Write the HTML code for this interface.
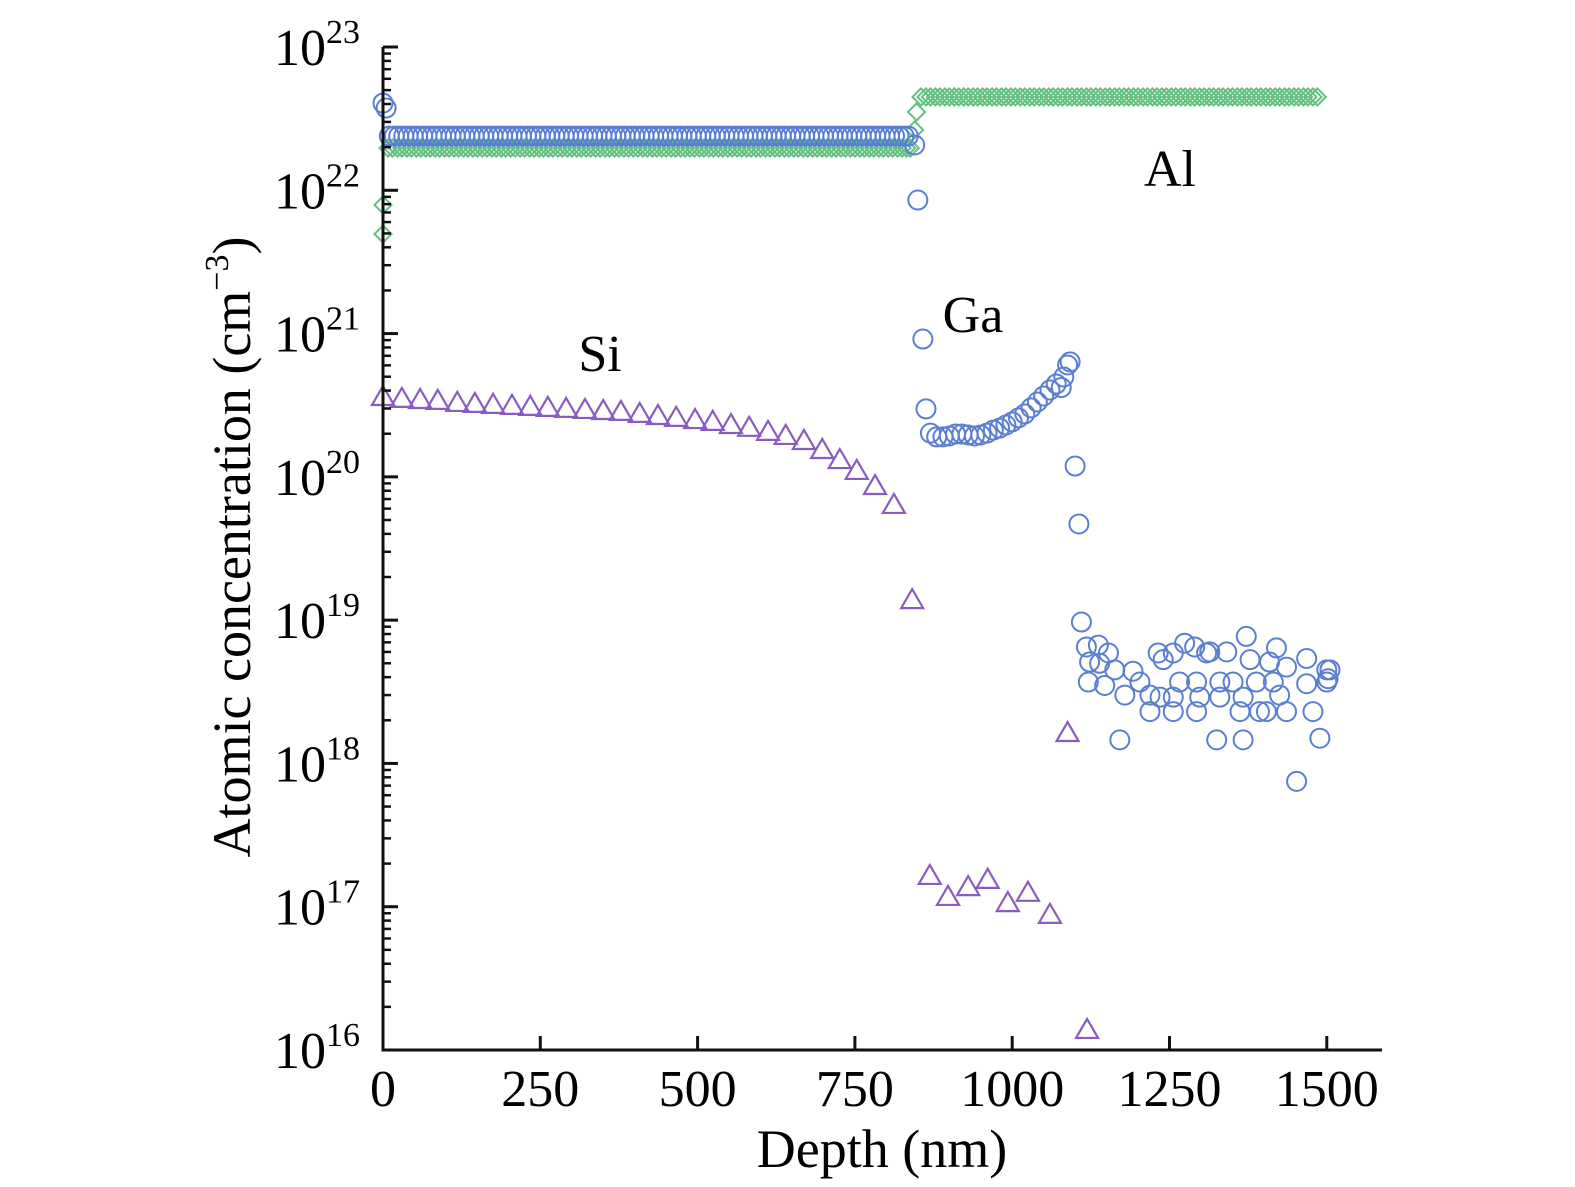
<!DOCTYPE html>
<html><head><meta charset="utf-8"><style>
html,body{margin:0;padding:0;background:#fff;}
svg{display:block;font-family:"Liberation Serif",serif;}
</style></head><body>
<svg id="chart" width="1575" height="1187" viewBox="0 0 1575 1187" xmlns="http://www.w3.org/2000/svg">
<g id="marks"></g>
<g id="axes"></g>
<text transform="translate(250,547) rotate(-90)" text-anchor="middle" font-size="54">Atomic concentration (cm<tspan dy="-22" font-size="34">−3</tspan><tspan dy="22">)</tspan></text>
<text x="882" y="1167" text-anchor="middle" font-size="54">Depth (nm)</text>
<text x="1170" y="186" text-anchor="middle" font-size="52">Al</text>
<text x="973" y="332" text-anchor="middle" font-size="52">Ga</text>
<text x="600" y="371" text-anchor="middle" font-size="52">Si</text>
</svg>
<script>
const xTicks = [0, 250, 500, 750, 1000, 1250, 1500];
const yDecades = [16, 17, 18, 19, 20, 21, 22, 23];

const siDepth = [0,30,59,87,118,146,175,205,234,262,291,321,350,378,408,437,466,496,524,553,582,612,640,669,698,726,753,782,812,841,869,898,930,961,993,1025,1060,1088,1119];
const siConc = [3.61e20,3.50e20,3.44e20,3.39e20,3.28e20,3.23e20,3.18e20,3.13e20,3.08e20,3.03e20,2.98e20,2.93e20,2.88e20,2.84e20,2.75e20,2.66e20,2.58e20,2.49e20,2.42e20,2.30e20,2.20e20,2.06e20,1.93e20,1.78e20,1.54e20,1.31e20,1.10e20,8.63e19,6.37e19,1.38e19,1.64e17,1.17e17,1.37e17,1.54e17,1.06e17,1.25e17,8.77e16,1.63e18,1.38e16];

const alDepth = [0,0,8,15,23,30,38,45,53,60,68,75,83,90,98,105,113,120,128,135,143,150,158,165,173,180,188,195,203,210,218,225,233,240,248,255,263,270,278,285,293,300,308,315,323,330,338,345,353,360,368,375,383,390,398,405,413,420,428,435,443,450,458,465,473,480,488,495,503,510,518,525,533,540,548,555,563,570,578,585,593,600,608,615,623,630,638,645,653,660,668,675,683,690,698,705,713,720,728,735,743,750,758,765,773,780,788,795,803,810,818,825,832,838,845,848,855,863,870,878,885,893,900,908,915,923,930,938,945,953,960,968,975,983,990,998,1005,1013,1020,1028,1035,1043,1050,1058,1065,1073,1080,1088,1095,1103,1110,1118,1125,1133,1140,1148,1155,1163,1170,1178,1185,1193,1200,1208,1215,1223,1230,1238,1245,1253,1260,1268,1275,1283,1290,1298,1305,1313,1320,1328,1335,1343,1350,1358,1365,1373,1380,1388,1395,1403,1410,1418,1425,1433,1440,1448,1455,1463,1470,1478,1485,1492,1497];
const alConc = [4.95e21,7.9e21,1.97e22,1.97e22,1.97e22,1.97e22,1.97e22,1.97e22,1.97e22,1.97e22,1.97e22,1.97e22,1.97e22,1.97e22,1.97e22,1.97e22,1.97e22,1.97e22,1.97e22,1.97e22,1.97e22,1.97e22,1.97e22,1.97e22,1.97e22,1.97e22,1.97e22,1.97e22,1.97e22,1.97e22,1.97e22,1.97e22,1.97e22,1.97e22,1.97e22,1.97e22,1.97e22,1.97e22,1.97e22,1.97e22,1.97e22,1.97e22,1.97e22,1.97e22,1.97e22,1.97e22,1.97e22,1.97e22,1.97e22,1.97e22,1.97e22,1.97e22,1.97e22,1.97e22,1.97e22,1.97e22,1.97e22,1.97e22,1.97e22,1.97e22,1.97e22,1.97e22,1.97e22,1.97e22,1.97e22,1.97e22,1.97e22,1.97e22,1.97e22,1.97e22,1.97e22,1.97e22,1.97e22,1.97e22,1.97e22,1.97e22,1.97e22,1.97e22,1.97e22,1.97e22,1.97e22,1.97e22,1.97e22,1.97e22,1.97e22,1.97e22,1.97e22,1.97e22,1.97e22,1.97e22,1.97e22,1.97e22,1.97e22,1.97e22,1.97e22,1.97e22,1.97e22,1.97e22,1.97e22,1.97e22,1.97e22,1.97e22,1.97e22,1.97e22,1.97e22,1.97e22,1.97e22,1.97e22,1.97e22,1.97e22,1.97e22,1.97e22,1.97e22,1.97e22,2.64e22,3.52e22,4.48e22,4.48e22,4.48e22,4.48e22,4.48e22,4.48e22,4.48e22,4.48e22,4.48e22,4.48e22,4.48e22,4.48e22,4.48e22,4.48e22,4.48e22,4.48e22,4.48e22,4.48e22,4.48e22,4.48e22,4.48e22,4.48e22,4.48e22,4.48e22,4.48e22,4.48e22,4.48e22,4.48e22,4.48e22,4.48e22,4.48e22,4.48e22,4.48e22,4.48e22,4.48e22,4.48e22,4.48e22,4.48e22,4.48e22,4.48e22,4.48e22,4.48e22,4.48e22,4.48e22,4.48e22,4.48e22,4.48e22,4.48e22,4.48e22,4.48e22,4.48e22,4.48e22,4.48e22,4.48e22,4.48e22,4.48e22,4.48e22,4.48e22,4.48e22,4.48e22,4.48e22,4.48e22,4.48e22,4.48e22,4.48e22,4.48e22,4.48e22,4.48e22,4.48e22,4.48e22,4.48e22,4.48e22,4.48e22,4.48e22,4.48e22,4.48e22,4.48e22,4.48e22,4.48e22,4.48e22,4.48e22,4.48e22,4.48e22,4.48e22,4.48e22];

const gaDepth = [0,5,10,18,25,33,40,48,55,63,70,78,85,93,100,108,115,123,130,138,145,153,160,168,175,183,190,198,205,213,220,228,235,243,250,258,265,273,280,288,295,303,310,318,325,333,340,348,355,363,370,378,385,393,400,408,415,423,430,438,445,453,460,468,475,483,490,498,505,513,520,528,535,543,550,558,565,573,580,588,595,603,610,618,625,633,640,648,655,663,670,678,685,693,700,708,715,723,730,738,745,753,760,768,775,783,790,798,805,813,820,828,835,845,850,858,863,870,880,890,900,910,920,930,940,950,960,970,980,990,1000,1010,1020,1030,1040,1050,1060,1070,1078,1082,1088,1092,1100,1106,1110,1118,1137,1153,1123,1139,1121,1147,1163,1179,1192,1203,1219,1232,1240,1256,1274,1290,1309,1314,1341,1372,1378,1409,1420,1436,1468,1500,1266,1293,1330,1351,1388,1415,1468,1500,1235,1256,1298,1330,1367,1425,1219,1256,1293,1362,1393,1404,1436,1478,1171,1325,1367,1489,1452,1505,1502];
const gaConc = [4.06e22,3.75e22,2.39e22,2.39e22,2.39e22,2.39e22,2.39e22,2.39e22,2.39e22,2.39e22,2.39e22,2.39e22,2.39e22,2.39e22,2.39e22,2.39e22,2.39e22,2.39e22,2.39e22,2.39e22,2.39e22,2.39e22,2.39e22,2.39e22,2.39e22,2.39e22,2.39e22,2.39e22,2.39e22,2.39e22,2.39e22,2.39e22,2.39e22,2.39e22,2.39e22,2.39e22,2.39e22,2.39e22,2.39e22,2.39e22,2.39e22,2.39e22,2.39e22,2.39e22,2.39e22,2.39e22,2.39e22,2.39e22,2.39e22,2.39e22,2.39e22,2.39e22,2.39e22,2.39e22,2.39e22,2.39e22,2.39e22,2.39e22,2.39e22,2.39e22,2.39e22,2.39e22,2.39e22,2.39e22,2.39e22,2.39e22,2.39e22,2.39e22,2.39e22,2.39e22,2.39e22,2.39e22,2.39e22,2.39e22,2.39e22,2.39e22,2.39e22,2.39e22,2.39e22,2.39e22,2.39e22,2.39e22,2.39e22,2.39e22,2.39e22,2.39e22,2.39e22,2.39e22,2.39e22,2.39e22,2.39e22,2.39e22,2.39e22,2.39e22,2.39e22,2.39e22,2.39e22,2.39e22,2.39e22,2.39e22,2.39e22,2.39e22,2.39e22,2.39e22,2.39e22,2.39e22,2.39e22,2.39e22,2.39e22,2.39e22,2.39e22,2.39e22,2.39e22,2.07e22,8.55e21,9.16e20,2.98e20,2.02e20,1.90e20,1.90e20,1.93e20,1.99e20,1.99e20,1.96e20,1.93e20,1.96e20,2.02e20,2.12e20,2.19e20,2.30e20,2.42e20,2.58e20,2.75e20,3.03e20,3.33e20,3.67e20,4.04e20,4.45e20,4.2e20,4.98e20,6.04e20,6.34e20,1.19e20,4.69e19,9.7e18,6.5e18,6.7e18,5.9e18,5.1e18,5.0e18,3.7e18,3.5e18,4.5e18,3.0e18,4.4e18,3.7e18,3.0e18,5.9e18,5.3e18,5.9e18,6.9e18,6.5e18,5.9e18,6.0e18,6.0e18,7.7e18,5.3e18,5.1e18,6.4e18,4.7e18,5.4e18,4.5e18,3.7e18,3.7e18,3.7e18,3.7e18,3.7e18,3.7e18,3.6e18,3.7e18,2.9e18,2.9e18,2.9e18,2.9e18,2.9e18,3.0e18,2.3e18,2.3e18,2.3e18,2.3e18,2.3e18,2.3e18,2.3e18,2.3e18,1.46e18,1.46e18,1.46e18,1.5e18,7.5e17,4.5e18,3.9e18];

const NS = "http://www.w3.org/2000/svg";
const X0 = 383, X1 = 1382, PX_PER_NM = 157.3 / 250;
const YTOP = 47, YBOT = 1050;
function xScale(d){ return X0 + d * PX_PER_NM; }
function yScale(v){ const l = Math.log10(v); return YBOT - (l - 16) * (YBOT - YTOP) / 7; }
function mk(tag, attrs, parent){ const e = document.createElementNS(NS, tag); for (const k in attrs) e.setAttribute(k, attrs[k]); parent.appendChild(e); return e; }

const marks = document.getElementById('marks');
const axes = document.getElementById('axes');

const gAl = mk('g', {fill:'none', stroke:'#63c07e', 'stroke-width':'2'}, marks);


alDepth.forEach((d, i) => {
  const x = xScale(d), y = yScale(alConc[i]), r = 8.5;
  const p = mk('polygon', {points: `${x},${y-r} ${x+r},${y} ${x},${y+r} ${x-r},${y}`}, gAl);
  
  
});
const gGa = mk('g', {fill:'none', stroke:'#5a7fd2', 'stroke-width':'2'}, marks);


gaDepth.forEach((d, i) => {
  const c = mk('circle', {cx: xScale(d), cy: yScale(gaConc[i]), r: 9.5}, gGa);
  
  
});
const gSi = mk('g', {fill:'none', stroke:'#8a5cc2', 'stroke-width':'2.2'}, marks);


siDepth.forEach((d, i) => {
  const x = xScale(d), y = yScale(siConc[i]);
  const t = mk('polygon', {points: `${x},${y-11} ${x+11},${y+8} ${x-11},${y+8}`}, gSi);
  
  
});

const yAxis = mk('line', {x1:X0, y1:YTOP, x2:X0, y2:YBOT+1.5, stroke:'#111', 'stroke-width':'3'}, axes);


const xAxis = mk('line', {x1:X0-1.5, y1:YBOT, x2:X1, y2:YBOT, stroke:'#111', 'stroke-width':'3'}, axes);



yDecades.forEach((dec, i) => {
  const y = yScale(Math.pow(10, dec));
  const t = mk('line', {x1:X0, y1:y, x2:X0+15, y2:y, stroke:'#111', 'stroke-width':'3'}, axes);
  
  
  const lab = mk('text', {x:274, y:y+18, 'font-size':'52'}, axes);
  
  
  lab.appendChild(document.createTextNode('10'));
  const sup = mk('tspan', {dy:'-22', 'font-size':'34'}, lab);
  sup.textContent = String(dec);
  if (i < yDecades.length - 1) {
    for (let m = 2; m <= 9; m++) {
      const ym = yScale(m * Math.pow(10, dec));
      const mt = mk('line', {x1:X0, y1:ym, x2:X0+8, y2:ym, stroke:'#111', 'stroke-width':'2.5'}, axes);
      
      
    }
  }
});
xTicks.forEach(v => {
  const x = xScale(v);
  const t = mk('line', {x1:x, y1:YBOT, x2:x, y2:YBOT-14, stroke:'#111', 'stroke-width':'3'}, axes);
  
  
  const lab = mk('text', {x:x, y:1106, 'font-size':'52', 'text-anchor':'middle'}, axes);
  
  
  lab.textContent = String(v);
});
</script>
</body></html>
